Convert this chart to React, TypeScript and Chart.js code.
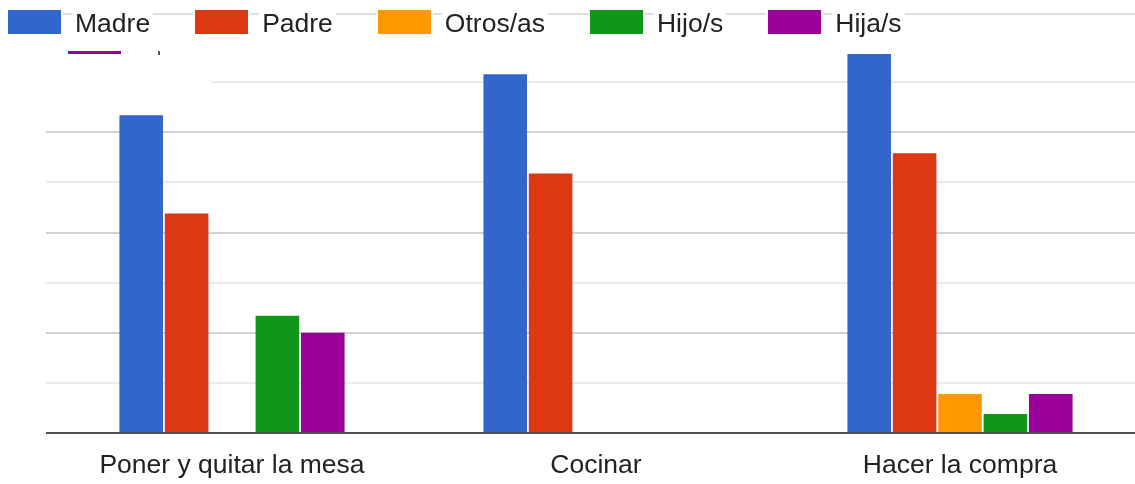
import React, { useEffect, useRef } from "react";
import { Chart, registerables } from "chart.js";

Chart.register(...registerables);

const categories = ["Poner y quitar la mesa", "Cocinar", "Hacer la compra"];
const madre = [15.85, 17.9, 18.9];
const padre = [10.95, 12.95, 13.95];
const otros = [0, 0, 1.95];
const hijos = [5.85, 0, 0.95];
const hijas = [5.0, 0, 1.95];
const seriesNames = ["Madre", "Padre", "Otros/as", "Hijo/s", "Hija/s"];
const seriesColors = ["#3366cc", "#dc3912", "#ff9900", "#109618", "#990099"];
const gridTicks = [0, 2.5, 5, 7.5, 10, 12.5, 15, 17.5];
const yMax = 20.9;

const FONT = '"Liberation Sans", Arial, sans-serif';

export default function App() {
  const canvasRef = useRef<HTMLCanvasElement | null>(null);

  useEffect(() => {
    const canvas = canvasRef.current;
    if (!canvas) return;
    const seriesData = [madre, padre, otros, hijos, hijas];
    const chart = new Chart(canvas, {
      type: "bar",
      data: {
        labels: categories,
        datasets: seriesNames.map((name, i) => ({
          label: name,
          data: seriesData[i],
          backgroundColor: seriesColors[i],
          borderWidth: 0,
          categoryPercentage: 0.6236,
          barPercentage: 0.96,
        })),
      },
      options: {
        animation: false,
        responsive: false,
        devicePixelRatio: 1,
        layout: { padding: { left: 46, top: 14, right: 0, bottom: 0 } },
        plugins: {
          legend: { display: false },
          tooltip: { enabled: false },
        },
        scales: {
          x: {
            grid: { display: false },
            border: { display: false },
            ticks: {
              color: "#222222",
              font: { family: FONT, size: 26.5 },
              padding: 9,
              maxRotation: 0,
              autoSkip: false,
            },
            afterFit: (s: any) => {
              s.height = 51;
            },
          },
          y: {
            min: 0,
            max: yMax,
            border: { display: false },
            ticks: { display: false },
            grid: {
              drawTicks: true,
              tickLength: 4,
              lineWidth: 2,
              color: (ctx: any) => {
                const v = ctx.tick ? ctx.tick.value : 0;
                if (v === 0) return "#505050";
                if (v === yMax) return "#dedede";
                if (v % 5 === 0) return "#d2d2d2";
                return "#ebebeb";
              },
            },
            afterBuildTicks: (s: any) => {
              s.ticks = [...gridTicks, yMax].map((v) => ({ value: v }));
            },
            afterFit: (s: any) => {
              s.width = 4;
            },
          },
        },
      },
    });
    return () => chart.destroy();
  }, []);

  return (
    <div
      style={{
        position: "absolute",
        top: 0,
        left: 0,
        width: 1135,
        height: 484,
        overflow: "hidden",
        background: "#ffffff",
      }}
    >
      <canvas
        ref={canvasRef}
        width={1142}
        height={484}
        style={{ display: "block", width: 1142, height: 484 }}
      />
      <div
        style={{
          position: "absolute",
          left: 0,
          top: 38,
          width: 211,
          height: 54,
          background: "#ffffff",
        }}
      >
        <div
          style={{
            position: "absolute",
            left: 68,
            top: 13,
            width: 53,
            height: 3,
            background: seriesColors[4],
          }}
        />
        <div
          style={{
            position: "absolute",
            left: 158,
            top: 13,
            width: 2,
            height: 4,
            background: "#555555",
          }}
        />
      </div>
      <div
        style={{
          position: "absolute",
          left: 8,
          top: 10,
          display: "flex",
          alignItems: "flex-start",
          fontFamily: FONT,
          fontSize: 26.5,
          lineHeight: "26.5px",
          color: "#222222",
        }}
      >
        {seriesNames.map((name, i) => (
          <div key={name} style={{ display: "flex", alignItems: "flex-start" }}>
            <span
              style={{
                display: "block",
                width: 53,
                height: 24,
                background: seriesColors[i],
                boxShadow: "0 0 0 2px #ffffff",
                marginRight: 11,
              }}
            />
            <span
              style={{
                display: "block",
                background: "#ffffff",
                padding: "0 3px",
                height: 26,
                marginRight: i < seriesNames.length - 1 ? 42 : 0,
                whiteSpace: "nowrap",
              }}
            >
              {name}
            </span>
          </div>
        ))}
      </div>
    </div>
  );
}
